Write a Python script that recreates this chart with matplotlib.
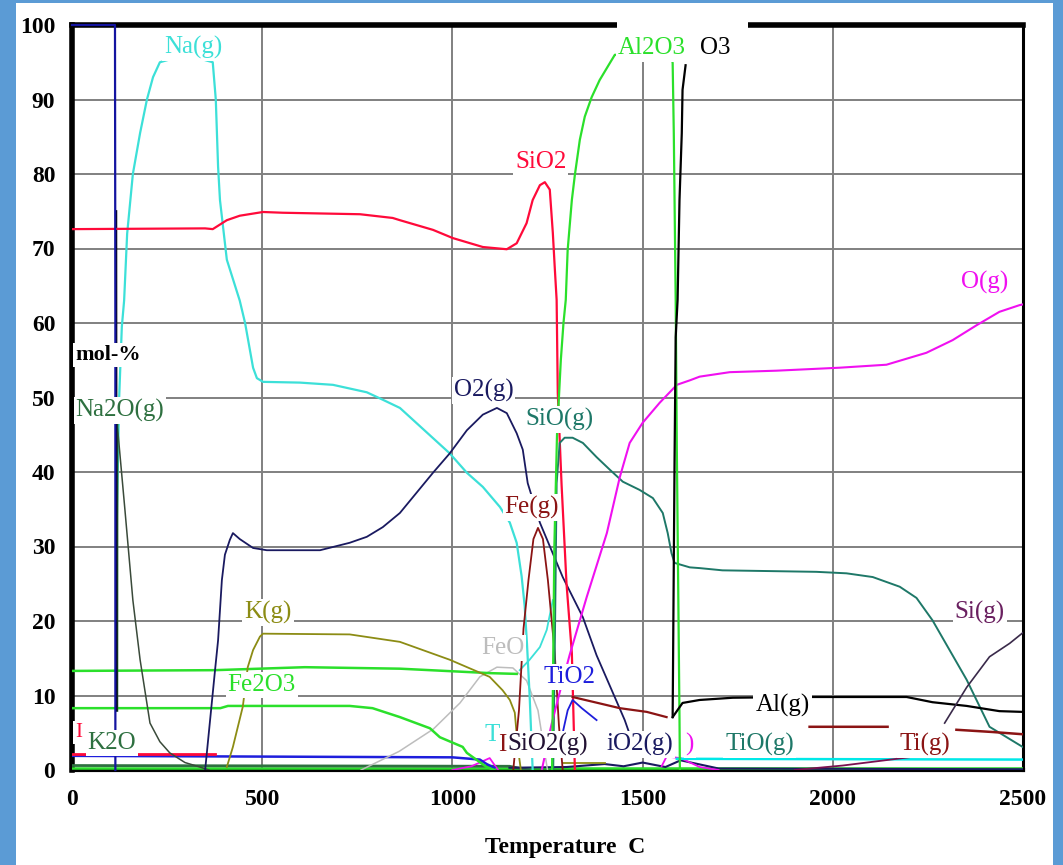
import matplotlib
matplotlib.use("Agg")
import matplotlib.pyplot as plt
from matplotlib.patches import Rectangle
import numpy as np

# ---------------- data (Temperature C  ->  mol-%) ----------------
x_ticks = [0, 500, 1000, 1500, 2000, 2500]
y_ticks = [0, 10, 20, 30, 40, 50, 60, 70, 80, 90, 100]

blue_top_T = [0, 113, 114, 114]
blue_top_v = [100, 100, 60, 0]

black_spike_T = [116, 116.5, 117]
black_spike_v = [75, 40, 8]

na2o_vert_T = [118, 118.5]
na2o_vert_v = [8, 47]

na2o_g_T = [119, 121, 139, 160, 179, 205, 231, 257, 297, 336, 360]
na2o_g_v = [46, 45.2, 35, 22.8, 14.8, 6.3, 3.8, 2.3, 1.0, 0.4, 0]

na_g_T = [118, 124, 131, 137, 145, 160, 179, 197, 213, 231, 300, 370, 378, 384,
          389, 407, 441, 455, 476, 486, 502, 599, 686, 775, 817, 862, 993, 1038,
          1080, 1125, 1151, 1169, 1182, 1190, 1196, 1203, 1211]
na_g_v = [34, 50, 59.5, 63, 72, 80, 85.5, 90, 93, 95, 96, 95, 90, 81,
          76.5, 68.5, 63, 60, 54, 52.6, 52.1, 52, 51.7, 50.7, 49.7, 48.6, 42.5, 39.9,
          38, 35.3, 33.2, 30.5, 26, 22, 17, 10, 0]

sio2_T = [0, 350, 370, 407, 441, 502, 554, 757, 843, 862, 949, 1001, 1080, 1143,
          1169, 1195, 1211, 1230, 1243, 1256, 1264, 1269, 1274, 1277, 1287, 1300,
          1314, 1322]
sio2_v = [72.6, 72.7, 72.6, 73.8, 74.4, 74.9, 74.8, 74.6, 74.1, 73.8, 72.5, 71.4, 70.2, 69.9,
          70.7, 73.4, 76.5, 78.5, 78.9, 77.9, 72.1, 67.5, 63.1, 50.6, 38.3, 25,
          15.7, 0]

o2_g_T = [350, 363, 376, 384, 394, 402, 415, 423, 441, 476, 512, 652, 730, 775, 817,
          862, 949, 993, 1038, 1080, 1117, 1143, 1169, 1185, 1198, 1230, 1290, 1343,
          1379, 1419, 1453, 1475]
o2_g_v = [0, 6.7, 13.4, 17.4, 25.5, 28.9, 30.9, 31.8, 31.0, 29.8, 29.5, 29.5, 30.5, 31.3, 32.6,
          34.5, 39.9, 42.5, 45.6, 47.7, 48.6, 47.9, 45.2, 43, 38.5, 33.2, 25.9, 20.5,
          15.4, 10.7, 6.7, 3.5]

fe_g_T = [1160, 1175, 1187, 1200, 1213, 1225, 1238, 1251, 1269, 1280, 1290]
fe_g_v = [0, 8, 19, 25.5, 31, 32.5, 31, 25.5, 15.7, 6, 0]

sio_g_T = [1265, 1270, 1274, 1282, 1295, 1316, 1343, 1379, 1414, 1448, 1492, 1527,
           1553, 1566, 1576, 1584, 1624, 1650, 1710, 1957, 2036, 2105, 2176, 2220,
           2262, 2352, 2412, 2499]
sio_g_v = [0, 20, 38.5, 43.9, 44.6, 44.6, 43.9, 42, 40.3, 38.7, 37.6, 36.5,
           34.5, 31.8, 29.1, 27.8, 27.2, 27.1, 26.8, 26.6, 26.4, 25.9, 24.6, 23.1,
           20.1, 12.1, 5.8, 3.1]

o_g_T = [1235, 1260, 1285, 1308, 1353, 1406, 1440, 1466, 1500, 1545, 1590, 1624,
         1650, 1729, 1852, 2018, 2141, 2246, 2315, 2378, 2438, 2491, 2500]
o_g_v = [0, 6, 11, 15.4, 23.2, 31.8, 39.3, 43.9, 46.6, 49.3, 51.7, 52.3,
         52.8, 53.4, 53.6, 54.0, 54.4, 56, 57.7, 59.7, 61.5, 62.4, 62.5]

al2o3_liq_T = [1262, 1268, 1275, 1285, 1292, 1298, 1303, 1314, 1322, 1335, 1348, 1366,
               1387, 1414, 1427, 1500, 1575, 1579, 1582, 1587, 1590, 1597, 1598]
al2o3_liq_v = [0, 30, 45, 55, 60, 63.1, 69.8, 76.5, 79.9, 84.6, 87.7, 90.3,
               92.6, 94.9, 96, 96, 96, 94.9, 85.5, 63, 43, 7, 0]

al2o3_black_T = [1579, 1584, 1587, 1592, 1597, 1603, 1605, 1613]
al2o3_black_v = [7.1, 41.6, 58.1, 63.1, 76.5, 85.5, 91.3, 94.6]

al_g_T = [1579, 1605, 1650, 1737, 1913, 2194, 2262, 2352, 2438, 2499]
al_g_v = [7.1, 9, 9.4, 9.7, 9.8, 9.8, 9.1, 8.6, 7.9, 7.8]

k_g_T = [407, 423, 449, 462, 476, 494, 502, 730, 862, 993, 1098, 1132, 1151, 1164, 1172, 1180]
k_g_v = [0.4, 3.1, 8.5, 13.8, 16.1, 17.9, 18.3, 18.2, 17.2, 14.8, 12.5, 10.7, 9.4, 7.7, 3, 0]

green_upper_T = [0, 375, 612, 862, 1100, 1169]
green_upper_v = [13.3, 13.4, 13.8, 13.6, 13.0, 12.9]

fe2o3_T = [0, 390, 410, 730, 790, 862, 941, 967, 1027, 1038, 1090, 1110]
fe2o3_v = [8.3, 8.3, 8.6, 8.6, 8.3, 7.1, 5.6, 4.4, 3.1, 2.3, 0.4, 0]

feo_T = [760, 860, 950, 1020, 1072, 1117, 1159, 1195, 1225, 1250]
feo_v = [0, 2.5, 5.5, 9, 12.5, 13.8, 13.7, 12, 8, 0]

cyan_mid_T = [1177, 1203, 1230, 1248, 1264]
cyan_mid_v = [13.4, 14.8, 16.5, 18.8, 22.8]

tio2_T = [1290, 1303, 1316, 1340, 1379]
tio2_v = [5, 8, 9.4, 8.3, 6.7]

ti_liq_T = [1316, 1440, 1511, 1563]
ti_liq_v = [9.8, 8.3, 7.8, 7.1]

darkred_right_T = [1939, 2144, 2145, 2324, 2325, 2420, 2499]
darkred_right_v = [5.8, 5.8, np.nan, np.nan, 5.4, 5.1, 4.8]

si_g_T = [2294, 2352, 2412, 2465, 2499]
si_g_v = [6.3, 11.1, 15.2, 17, 18.4]

tio_g_T = [1590, 2500]
tio_g_v = [1.5, 1.4]

ti_g_T = [1900, 2026, 2168, 2200]
ti_g_v = [0, 0.6, 1.5, 1.7]

blue_low_T = [0, 500, 1000, 1072, 1090, 1110]
blue_low_v = [1.9, 1.8, 1.7, 1.4, 0.8, 0.3]

red_low_T = [0, 375]
red_low_v = [2.1, 2.1]

k2o_T = [0, 1150, 1200]
k2o_v = [0.6, 0.5, 0]

green_base_T = [0, 2500]
green_base_v = [0.25, 0.25]

magenta_low1_T = [1000, 1050, 1098, 1120]
magenta_low1_v = [0, 0.5, 1.6, 0]
magenta_low2_T = [1550, 1563, 1600, 1650, 1700]
magenta_low2_v = [0.5, 1.8, 1.6, 0.4, 0]

navy_low_T = [1150, 1300, 1400, 1450, 1500, 1560, 1600, 1700, 2500]
navy_low_v = [0.3, 0.4, 0.8, 0.5, 1.0, 0.4, 1.3, 0.2, 0.1]

olive_low_T = [1290, 1400]
olive_low_v = [1.0, 1.0]

# ---------------- colours ----------------
C_CYAN = '#3CE0D8'
C_RED = '#FF0A3A'
C_MAG = '#F010F0'
C_NAVY = '#1A1A60'
C_TEAL = '#1E7868'
C_DRED = '#8B1414'
C_OLIVE = '#8C8C14'
C_GREEN = '#2BE02B'
C_GRAY = '#BDBDBD'
C_BLUE = '#1E1EDC'
C_DGREEN = '#2E7040'
C_PURP = '#6A2060'

SERIF = ['Liberation Serif', 'DejaVu Serif']

fig = plt.figure(figsize=(10.63, 8.65), dpi=100)
fig.patch.set_facecolor('#5B9BD5')
fig.add_artist(Rectangle((16 / 1063, 0), (1053 - 16) / 1063, 862 / 865,
                         transform=fig.transFigure, facecolor='white',
                         edgecolor='none', zorder=0))

ax = fig.add_axes([72 / 1063, 95 / 865, (1023 - 72) / 1063, (770 - 25) / 865])
ax.set_xlim(0, 2500)
ax.set_ylim(0, 100)
ax.set_xticks(x_ticks)
ax.set_yticks(y_ticks)
ax.grid(True, color='#808080', lw=1.4)
ax.set_axisbelow(True)
ax.tick_params(length=0, labelsize=17)
ax.tick_params(axis='y', pad=12)
ax.tick_params(axis='x', pad=14)
for lab in ax.get_xticklabels() + ax.get_yticklabels():
    lab.set_family(SERIF)
    lab.set_fontweight('bold')
ax.spines['left'].set_linewidth(4)
ax.spines['top'].set_linewidth(4)
ax.spines['bottom'].set_linewidth(3)
ax.spines['right'].set_linewidth(2.2)


def line(T, v, color, lw=1.4, z=3, clip=True):
    ax.plot(T, v, color=color, lw=lw, zorder=z, clip_on=clip, solid_joinstyle='round')


line(green_base_T, green_base_v, C_GREEN, 1.8)
line(k2o_T, k2o_v, C_DGREEN, 2.0)
line(navy_low_T, navy_low_v, C_NAVY, 1.5)
line(olive_low_T, olive_low_v, C_OLIVE, 1.3)
line(magenta_low1_T, magenta_low1_v, C_MAG, 1.3)
line(magenta_low2_T, magenta_low2_v, C_MAG, 1.3)
line(blue_low_T, blue_low_v, C_BLUE, 1.8)
line(red_low_T, red_low_v, C_RED, 2.0)
line(tio_g_T, tio_g_v, '#00E8E8', 1.8)
line(ti_g_T, ti_g_v, '#7A1050', 1.3)
line(feo_T, feo_v, C_GRAY, 1.1)
line(fe2o3_T, fe2o3_v, C_GREEN, 1.8)
line(green_upper_T, green_upper_v, C_GREEN, 1.8)
line(k_g_T, k_g_v, C_OLIVE, 1.3)
line(cyan_mid_T, cyan_mid_v, C_CYAN, 1.3)
line(na_g_T, na_g_v, C_CYAN, 1.6)
line(na2o_g_T, na2o_g_v, '#3A4A3A', 1.1)
line(na2o_vert_T, na2o_vert_v, C_DGREEN, 2.0)
line(black_spike_T, black_spike_v, 'black', 1.6)
line(blue_top_T, blue_top_v, '#1414A0', 1.6, z=6, clip=False)
line(o2_g_T, o2_g_v, C_NAVY, 1.3)
line(fe_g_T, fe_g_v, C_DRED, 1.3)
line(sio2_T, sio2_v, C_RED, 1.6)
line(sio_g_T, sio_g_v, C_TEAL, 1.4)
line(o_g_T, o_g_v, C_MAG, 1.5)
line(al2o3_liq_T, al2o3_liq_v, C_GREEN, 1.6)
line(al2o3_black_T, al2o3_black_v, 'black', 1.6)
line(al_g_T, al_g_v, 'black', 1.6)
line(tio2_T, tio2_v, C_BLUE, 1.3)
line(ti_liq_T, ti_liq_v, C_DRED, 1.6)
line(darkred_right_T, darkred_right_v, C_DRED, 1.8)
line(si_g_T, si_g_v, '#3A2A4A', 1.2)

# white gap in the top frame under the Al2O3 label
ax.add_patch(Rectangle((1432, 95.0), 344, 6.2, facecolor='white', edgecolor='none',
                       zorder=5, clip_on=False))


def label(T, v, s, color, weight='normal', size=18):
    ax.text(T, v, s, color=color, fontsize=size, fontweight=weight, family=SERIF,
            ha='center', va='center', zorder=8,
            bbox=dict(facecolor='white', edgecolor='none', pad=1.5))


label(318, 97.0, 'Na(g)', C_CYAN)
label(1232, 81.6, 'SiO2', C_RED)
label(1524, 96.9, 'Al2O3', C_GREEN)
label(1692, 96.9, 'O3', 'black')
label(2399, 65.4, 'O(g)', C_MAG)
label(95, 55.7, 'mol-%', 'black', weight='bold', size=16)
label(126, 48.3, 'Na2O(g)', C_DGREEN)
label(1082, 51.0, 'O2(g)', C_NAVY)
label(1282, 47.0, 'SiO(g)', C_TEAL)
label(1209, 35.2, 'Fe(g)', C_DRED)
label(515, 21.2, 'K(g)', C_OLIVE)
label(499, 11.4, 'Fe2O3', C_GREEN)
label(1132, 16.4, 'FeO', C_GRAY)
label(1308, 12.5, 'TiO2', C_BLUE)
label(2386, 21.2, 'Si(g)', C_PURP)
label(1868, 8.7, 'Al(g)', 'black')
label(1104, 4.7, 'T', C_CYAN)
label(1251, 3.4, 'SiO2(g)', '#221133')
label(1130, 3.4, 'I', C_DRED)
label(1492, 3.4, 'iO2(g)', C_NAVY)
label(1624, 3.4, ')', C_MAG)
label(1808, 3.4, 'TiO(g)', C_TEAL)
label(2241, 3.4, 'Ti(g)', C_DRED)
label(105, 3.6, 'K2O', C_DGREEN)
label(18, 5.0, 'I', C_RED, size=15)

fig.text(565 / 1063, 1 - 848 / 865, 'Temperature  C', family=SERIF, fontsize=17,
         fontweight='bold', ha='center', va='center')

fig.savefig('out.png', dpi=100, facecolor=fig.get_facecolor())
